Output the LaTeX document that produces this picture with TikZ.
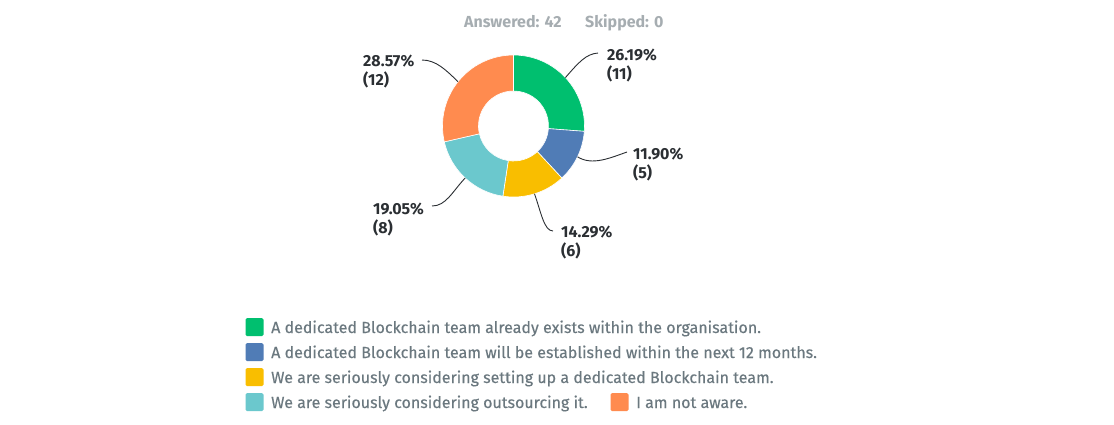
\documentclass[tikz,border=0pt]{standalone}
\usepackage{fontspec}
\setmainfont{Fira Sans}
\newfontfamily\legfont{Fira Sans}[FakeBold=0.3]
\usetikzlibrary{calc}
\definecolor{cgreen}{HTML}{00BF6F}
\definecolor{cblue}{HTML}{507CB6}
\definecolor{cyellow}{HTML}{F9BE00}
\definecolor{cteal}{HTML}{6BC8CD}
\definecolor{corange}{HTML}{FF8B4F}
\definecolor{lbltext}{HTML}{2B2F33}
\definecolor{legtext}{HTML}{6B787F}
\definecolor{hdrtext}{HTML}{A6ADB1}
\newcommand\donutslice[3]{\fill[#1, draw=white, line width=0.6pt] (513.5,-126) ++(#2:71) arc[start angle=#2, end angle=#3, radius=71] -- ($(513.5,-126)+(#3:35)$) arc[start angle=#3, end angle=#2, radius=35] -- cycle;}
\begin{document}
\begin{tikzpicture}[x=1pt,y=1pt,
  lbl/.style={font=\fontsize{16}{18}\selectfont\bfseries, text=lbltext, inner sep=0pt, anchor=base west},
  leader/.style={draw=lbltext, line width=0.9pt},
  legbox/.style={minimum size=18pt, inner sep=0pt, rounded corners=1.5pt},
  legtxt/.style={font=\fontsize{16}{18}\selectfont\legfont, text=legtext, inner sep=0pt, anchor=base west},
  hdr/.style={font=\fontsize{16}{18}\selectfont\bfseries, text=hdrtext, inner sep=0pt, anchor=base west}]
\useasboundingbox[fill=white] (0,0) rectangle (1114,-424);
% header
\node[hdr] (answered) at (464,-27.5) {Answered: 42};
\node[hdr] (skipped) at (585,-27.5) {Skipped: 0};
% donut
\coordinate (ctr) at (513.5,-126);
\donutslice{cgreen}{90}{-4.3}
\donutslice{cblue}{-4.3}{-47.1}
\donutslice{cyellow}{-47.1}{-98.6}
\donutslice{cteal}{-98.6}{-167.1}
\donutslice{corange}{-167.1}{-270}
% labels
\node[lbl] (pg) at (607,-60.5) {26.19\%};
\node[lbl] (ng) at (607,-79.5) {(11)};
\node[lbl] (pb) at (633,-159.5) {11.90\%};
\node[lbl] (nb) at (633,-178.5) {(5)};
\node[lbl] (py) at (561,-237.5) {14.29\%};
\node[lbl] (ny) at (561,-256.5) {(6)};
\node[lbl] (pt) at (373,-214.5) {19.05\%};
\node[lbl] (nt) at (373,-233.5) {(8)};
\node[lbl] (po) at (363,-66.5) {28.57\%};
\node[lbl] (no) at (363,-85.5) {(12)};
% leader lines
\coordinate (gs) at ($(ctr)+(43:71)$);
\coordinate (ge) at (598,-53);
\coordinate (bs) at ($(ctr)+(-25.7:71)$);
\coordinate (be) at (627,-152);
\coordinate (ys) at ($(ctr)+(-72.8:71)$);
\coordinate (ye) at (553,-231);
\coordinate (ts) at ($(ctr)+(-132.9:71)$);
\coordinate (te) at (432,-206);
\coordinate (os) at ($(ctr)+(141.4:71)$);
\coordinate (oe) at (422,-60);
\draw[leader] (gs) .. controls (579,-62) and (586,-54) .. (ge);
\draw[leader] (bs) .. controls (592,-166) and (610,-158) .. (be);
\draw[leader] (ys) .. controls (541,-212) and (544,-231) .. (ye);
\draw[leader] (ts) .. controls (452,-192) and (446,-206) .. (te);
\draw[leader] (os) .. controls (446,-70) and (436,-60) .. (oe);
% legend
\node[legbox, fill=cgreen] (k1) at (254.5,-327) {};
\node[legbox, fill=cblue] (k2) at (254.5,-352) {};
\node[legbox, fill=cyellow] (k3) at (254.5,-377) {};
\node[legbox, fill=cteal] (k4) at (254.5,-402) {};
\node[legbox, fill=corange] (k5) at (619.5,-402) {};
\node[legtxt] (t1) at (271,-333) {A dedicated Blockchain team already exists within the organisation.};
\node[legtxt] (t2) at (271,-358) {A dedicated Blockchain team will be established within the next 12 months.};
\node[legtxt] (t3) at (271,-383) {We are seriously considering setting up a dedicated Blockchain team.};
\node[legtxt] (t4) at (271,-408) {We are seriously considering outsourcing it.};
\node[legtxt] (t5) at (636,-408) {I am not aware.};
\end{tikzpicture}
\end{document}
